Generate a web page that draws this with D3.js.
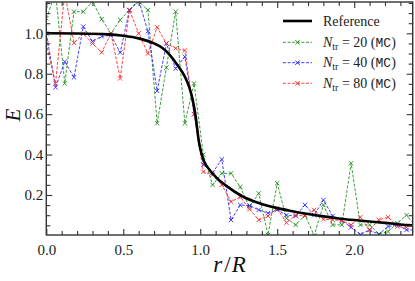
<!DOCTYPE html>
<html><head><meta charset="utf-8">
<script src="https://cdn.jsdelivr.net/npm/d3@7/dist/d3.min.js"></script>
<style>body{margin:0;background:#fff}svg{display:block}</style>
</head><body><svg id="c" width="415" height="281"></svg>
<script>
// ---- data ----
const rGrid = [0.00,0.06,0.12,0.18,0.24,0.30,0.36,0.42,0.48,0.54,0.60,0.66,0.72,0.78,0.84,0.90,0.96,1.02,1.08,1.14,1.20,1.26,1.32,1.38,1.44,1.50,1.56,1.62,1.68,1.74,1.80,1.86,1.92,1.98,2.04,2.10,2.16,2.22,2.28,2.34,2.40];
const eN20 = [1.074,1.20,0.752,1.107,1.107,1.157,1.07,1.0,1.066,1.115,1.157,1.115,0.555,0.83,1.107,0.555,0.752,0.40,0.25,0.307,0.307,0.24,0.14,0.208,0.002,0.258,0.085,0.052,0.10,0.0,0.151,0.052,0.052,0.357,0.052,0.052,0.007,0.019,0.06,0.10,0.044];
const eN40 = [1.0,0.733,0.86,0.782,1.033,0.96,0.985,0.99,0.905,1.115,1.165,1.01,0.715,0.95,0.826,0.884,0.60,0.35,0.31,0.376,0.076,0.15,0.148,0.126,0.11,0.126,0.10,0.096,0.151,0.10,0.175,0.096,0.073,0.04,0.005,0.027,0.005,0.044,0.052,0.027,0.027];
const eN80 = [0.95,0.752,1.2,0.953,0.998,0.95,0.906,1.0,0.777,1.115,1.0,0.90,1.03,0.95,0.926,0.915,0.60,0.315,0.30,0.25,0.167,0.19,0.13,0.077,0.096,0.134,0.063,0.10,0.096,0.126,0.08,0.077,0.073,0.052,0.09,0.027,0.077,0.09,0.044,0.04,0.068];
const refR = [0,0.2,0.4,0.5,0.6,0.7,0.75,0.8,0.85,0.9,0.93,0.95,0.97,0.99,1.0,1.02,1.06,1.1,1.17,1.27,1.38,1.5,1.6,1.7,1.8,1.9,2.0,2.1,2.2,2.3,2.4];
const refE = [1.0,0.999,0.995,0.988,0.975,0.95,0.93,0.895,0.845,0.785,0.73,0.675,0.59,0.47,0.43,0.375,0.325,0.29,0.245,0.195,0.16,0.135,0.12,0.106,0.094,0.084,0.076,0.069,0.062,0.054,0.049];
const xMajor = [0.0,0.5,1.0,1.5,2.0];
const yMajor = [0.2,0.4,0.6,0.8,1.0];
const xMinor = [0.1,0.2,0.3,0.4,0.6,0.7,0.8,0.9,1.1,1.2,1.3,1.4,1.6,1.7,1.8,1.9,2.1,2.2,2.3];
const yMinor = [0.05,0.1,0.15,0.25,0.3,0.35,0.45,0.5,0.55,0.65,0.7,0.75,0.85,0.9,0.95,1.05,1.1,1.15];
const seriesNames = ["20","40","80"];
const seriesColors = ["#1a8c1a","#1f1fff","#ff1f1f"];

// ---- chart ----
const svg = d3.select("#c");
const L=46.3, R=412.7, T=2, B=235;
const x = d3.scaleLinear().domain([0,2.38]).range([L,R]);
const y = d3.scaleLinear().domain([0.002,1.155]).range([B,T]);
const serif = "'Liberation Serif','DejaVu Serif',serif";

svg.append("defs").append("clipPath").attr("id","clip")
  .append("rect").attr("x",L).attr("y",T).attr("width",R-L).attr("height",B-T);

const g = svg.append("g").attr("clip-path","url(#clip)");
const series = [eN20,eN40,eN80];
const line = d3.line().x((d,i)=>x(rGrid[i])).y(d=>y(d));
const mk = "M-2.2,-2.2L2.2,2.2M-2.2,2.2L2.2,-2.2";
series.forEach((s,si)=>{
  const col = seriesColors[si];
  g.append("path").datum(s).attr("d",line).attr("fill","none")
   .attr("stroke",col).attr("stroke-width",1).attr("stroke-dasharray","3,1.6").attr("opacity",0.85);
  g.selectAll(null).data(s).enter().append("path")
   .attr("transform",(d,i)=>`translate(${x(rGrid[i])},${y(d)})`)
   .attr("d",mk).attr("stroke",col).attr("stroke-width",1).attr("opacity",0.85);
});
const refLine = d3.line().curve(d3.curveMonotoneX).x((d,i)=>x(refR[i])).y(d=>y(d));
g.append("path").datum(refE).attr("d",refLine).attr("fill","none")
 .attr("stroke","#000").attr("stroke-width",2.6);

// axes (ticks inward on all sides)
const axCol = "#333";
const axB = d3.axisBottom(x).tickValues(xMajor).tickSize(-6).tickPadding(9).tickFormat(d3.format(".1f"));
const axBm = d3.axisBottom(x).tickValues(xMinor).tickSize(-4).tickFormat("");
const axT = d3.axisTop(x).tickValues(xMajor).tickSize(-6).tickFormat("");
const axTm = d3.axisTop(x).tickValues(xMinor).tickSize(-4).tickFormat("");
const axL = d3.axisLeft(y).tickValues(yMajor).tickSize(-6).tickPadding(3).tickFormat(d3.format(".1f"));
const axLm = d3.axisLeft(y).tickValues(yMinor).tickSize(-4).tickFormat("");
const axR = d3.axisRight(y).tickValues(yMajor).tickSize(-6).tickFormat("");
const axRm = d3.axisRight(y).tickValues(yMinor).tickSize(-4).tickFormat("");
function st(sel){ sel.select(".domain").remove(); sel.selectAll("line").attr("stroke",axCol).attr("stroke-width",1.1);
  sel.selectAll("text").attr("font-family",serif).attr("font-size",15).attr("fill","#222"); }
svg.append("g").attr("transform",`translate(0,${B})`).call(axB).call(st);
svg.append("g").attr("transform",`translate(0,${B})`).call(axBm).call(st);
svg.append("g").attr("transform",`translate(0,${T})`).call(axT).call(st);
svg.append("g").attr("transform",`translate(0,${T})`).call(axTm).call(st);
svg.append("g").attr("transform",`translate(${L},0)`).call(axL).call(st);
svg.append("g").attr("transform",`translate(${L},0)`).call(axLm).call(st);
svg.append("g").attr("transform",`translate(${R},0)`).call(axR).call(st);
svg.append("g").attr("transform",`translate(${R},0)`).call(axRm).call(st);
svg.append("rect").attr("x",L).attr("y",T).attr("width",R-L).attr("height",B-T)
  .attr("fill","none").attr("stroke",axCol).attr("stroke-width",1.4);

// axis labels
svg.append("text").attr("transform","translate(20,115) rotate(-90)").attr("text-anchor","middle")
  .attr("font-family",serif).attr("font-style","italic").attr("font-size",21).attr("fill","#111").text("E");
const xl = svg.append("text").attr("x",229.5).attr("y",272).attr("text-anchor","middle")
  .attr("font-family",serif).attr("font-size",23).attr("fill","#111");
xl.append("tspan").attr("font-style","italic").text("r");
xl.append("tspan").attr("dx",2).text("/");
xl.append("tspan").attr("dx",1).attr("font-style","italic").text("R");

// legend
const lx0=283, lx1=312, tx=323, rows=[21,42.3,62.7,83.3];
const lg = svg.append("g");
lg.append("line").attr("x1",lx0).attr("x2",lx1).attr("y1",rows[0]).attr("y2",rows[0])
  .attr("stroke","#000").attr("stroke-width",2.6);
lg.append("text").attr("x",tx).attr("y",rows[0]+4.5).attr("font-family",serif).attr("font-size",14)
  .attr("fill","#222").text("Reference");
seriesNames.forEach((n,i)=>{
  const yy=rows[i+1], col=seriesColors[i];
  lg.append("line").attr("x1",lx0).attr("x2",lx1).attr("y1",yy).attr("y2",yy)
    .attr("stroke",col).attr("stroke-width",1).attr("stroke-dasharray","3,1.6").attr("opacity",0.85);
  lg.append("path").attr("transform",`translate(${(lx0+lx1)/2},${yy})`).attr("d",mk)
    .attr("stroke",col).attr("stroke-width",1);
  const t = lg.append("text").attr("x",tx).attr("y",yy+4.5).attr("font-family",serif).attr("font-size",14).attr("fill","#222");
  t.append("tspan").attr("font-style","italic").text("N");
  t.append("tspan").attr("font-size",10).attr("dy",3).text("tr");
  t.append("tspan").attr("dy",-3).text(" = " + n + " (");
  t.append("tspan").attr("font-family","'Liberation Mono','DejaVu Sans Mono',monospace").attr("font-size",13).text("MC");
  t.append("tspan").text(")");
});
</script></body></html>
